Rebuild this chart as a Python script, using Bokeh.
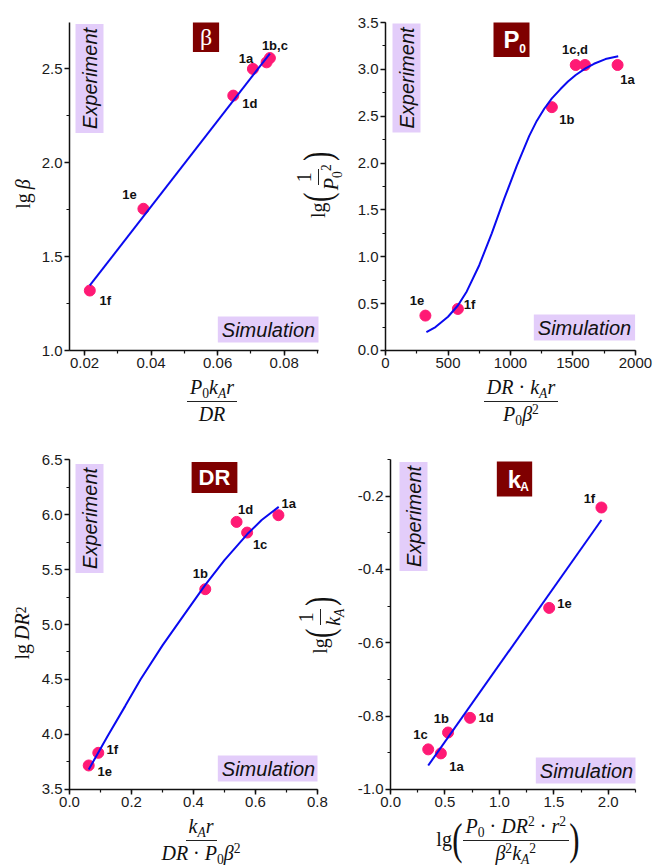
from bokeh.plotting import figure
from bokeh.models import (Range1d, SingleIntervalTicker, Label, LabelSet, Div,
                          ColumnDataSource, PrintfTickFormatter)
from bokeh.layouts import row, column
from bokeh.embed import file_html
from bokeh.resources import INLINE
from bokeh.core.properties import value

# ------------------------------------------------------------------ data
samples = ["1a", "1b", "1c", "1d", "1e", "1f"]

# panel beta
beta_x = [0.0706, 0.0747, 0.0757, 0.0647, 0.0377, 0.0216]
beta_y = [2.498, 2.533, 2.556, 2.356, 1.754, 1.319]
beta_text = ["1a", "", "1b,c", "1d", "1e", "1f"]
beta_fit_x = [0.0216, 0.0757]
beta_fit_y = [1.346, 2.580]

# panel P0
p0_x = [1857, 1331, 1522, 1596, 319, 579]
p0_y = [3.047, 2.597, 3.047, 3.047, 0.372, 0.443]
p0_text = ["1a", "1b", "1c,d", "", "1e", "1f"]
p0_fit_x = [327, 400, 500, 579, 650, 750, 850, 950, 1050, 1150, 1210, 1270, 1331, 1400, 1460,
            1522, 1600, 1668, 1760, 1862]
p0_fit_y = [0.195, 0.25, 0.36, 0.48, 0.63, 0.91, 1.25, 1.62, 1.97, 2.29, 2.45, 2.58, 2.69, 2.79,
            2.87, 2.94, 3.01, 3.06, 3.11, 3.14]

# panel DR
dr_x = [0.674, 0.438, 0.573, 0.539, 0.0619, 0.0928]
dr_y = [5.994, 5.321, 5.836, 5.933, 3.718, 3.833]
dr_text = ["1a", "1b", "1c", "1d", "1e", "1f"]
dr_fit_x = [0.062, 0.124, 0.18, 0.229, 0.30, 0.37, 0.438, 0.50, 0.573, 0.62, 0.675]
dr_fit_y = [3.682, 3.99, 4.26, 4.50, 4.81, 5.09, 5.36, 5.585, 5.82, 5.95, 6.07]

# panel kA
ka_x = [0.462, 0.528, 0.346, 0.730, 1.457, 1.937]
ka_y = [-0.902, -0.845, -0.891, -0.805, -0.505, -0.231]
ka_text = ["1a", "1b", "1c", "1d", "1e", "1f"]
ka_fit_x = [0.346, 1.937]
ka_fit_y = [-0.935, -0.265]

# axis ranges / tick intervals / tick label formats
beta_xrange, beta_yrange, beta_xtick, beta_ytick = (0.0155, 0.0903), (1.0, 2.745), 0.02, 0.5
p0_xrange, p0_yrange, p0_xtick, p0_ytick = (-0.3, 2000.3), (-0.0005, 3.5005), 500, 0.5
dr_xrange, dr_yrange, dr_xtick, dr_ytick = (-0.0001, 0.8001), (3.4995, 6.5005), 0.2, 0.5
ka_xrange, ka_yrange, ka_xtick, ka_ytick = (-0.0005, 2.25), (-1.0005, -0.1), 0.5, 0.2
beta_fmt = ("%.2f", "%.1f")
p0_fmt = ("%d", "%.1f")
dr_fmt = ("%.1f", "%.1f")
ka_fmt = ("%.1f", "%.1f")

# ------------------------------------------------------------------ styles
PINK = "#ff1a75"
BLUE = "#0a0af0"
LAV = "#e3cdfa"
MAROON = "#7f0000"
TXT = "#111111"

beta_dx = [-7, 0, 5, 16.5, -14, 15.5]
beta_dy = [-10, 0, -13, 8, -14, 9.5]
p0_dx = [10, 15, -0.7, 0, -8.3, 11.7]
p0_dy = [14.7, 12.3, -15.3, 0, -15, -4.7]
dr_dx = [10.3, -5, 13, 9, 16, 14]
dr_dy = [-11.3, -15.3, 12.3, -12.3, 6.3, -3.7]
ka_dx = [15.7, -6.7, -7.7, 16, 15.3, -12]
ka_dy = [12.7, -14.3, -14.7, 0, -4.3, -9.3]


def panel(x, y, text, dx, dy, fx, fy, xr, yr, xint, yint, fmt, W, H, bl, br, bt, bb):
    p = figure(width=W, height=H, x_range=Range1d(*xr), y_range=Range1d(*yr),
               output_backend="svg", toolbar_location=None,
               min_border_left=bl, min_border_right=br, min_border_top=bt, min_border_bottom=bb,
               background_fill_color="white", border_fill_color="white")
    p.outline_line_color = None
    p.grid.visible = False
    p.xaxis.ticker = SingleIntervalTicker(interval=xint, num_minor_ticks=2)
    p.yaxis.ticker = SingleIntervalTicker(interval=yint, num_minor_ticks=2)
    p.xaxis.formatter = PrintfTickFormatter(format=fmt[0])
    p.yaxis.formatter = PrintfTickFormatter(format=fmt[1])
    for ax in p.axis:
        ax.axis_line_width = 1.5
        ax.axis_line_color = "#111111"
        ax.major_tick_line_width = 1.5
        ax.major_tick_line_color = "#111111"
        ax.minor_tick_line_color = "#111111"
        ax.major_tick_out = 5
        ax.major_tick_in = 0
        ax.minor_tick_out = 3
        ax.minor_tick_in = 0
        ax.minor_tick_line_width = 1.2
        ax.major_label_text_font = "Liberation Sans"
        ax.major_label_text_font_size = "15px"
        ax.major_label_text_color = "#1a1a1a"
        ax.major_label_standoff = 2
    src = ColumnDataSource(dict(x=x, y=y, t=text, dx=dx, ndy=[-d for d in dy]))
    p.scatter("x", "y", source=src, size=11, fill_color=PINK, line_color=PINK)
    p.line(fx, fy, line_color=BLUE, line_width=2)
    p.add_layout(LabelSet(x="x", y="y", text="t", x_offset="dx", y_offset="ndy", source=src,
                          text_font=value("Liberation Sans"), text_font_style="bold",
                          text_font_size="13px", text_align="center", text_baseline="middle",
                          text_color=TXT))
    return p


def boxes(p, exp_xy, sim_xy):
    p.add_layout(Label(x=exp_xy[0], y=exp_xy[1], x_units="screen", y_units="screen",
                       text="Experiment", angle=90, angle_units="deg",
                       text_align="center", text_baseline="middle",
                       text_font="Liberation Sans", text_font_style="italic",
                       text_font_size="20px", text_color=TXT,
                       background_fill_color=LAV, padding=(4, 3)))
    p.add_layout(Label(x=sim_xy[0], y=sim_xy[1], x_units="screen", y_units="screen",
                       text="Simulation", text_align="center", text_baseline="middle",
                       text_font="Liberation Sans", text_font_style="italic",
                       text_font_size="20px", text_color=TXT,
                       background_fill_color=LAV, padding=(4, 2)))


def title_box(p, xy, txt, font, size, style, pad, sub=None, sub_xy=None):
    p.add_layout(Label(x=xy[0], y=xy[1], x_units="screen", y_units="screen",
                       text=txt, text_align="center", text_baseline="middle",
                       text_font=font, text_font_style=style, text_font_size=size,
                       text_color="white", background_fill_color=MAROON, padding=pad))
    if sub:
        p.add_layout(Label(x=sub_xy[0], y=sub_xy[1], x_units="screen", y_units="screen",
                           text=sub, text_align="center", text_baseline="middle",
                           text_font="Liberation Sans", text_font_style="bold",
                           text_font_size="12px", text_color="white"))


SUB = '<sub style="font-size:0.68em;line-height:0;vertical-align:-0.3em">{}</sub>'
SUP = '<sup style="font-size:0.68em;line-height:0;vertical-align:0.55em">{}</sup>'


def frac(num, den):
    return ('<span style="display:inline-flex;flex-direction:column;align-items:center;'
            'vertical-align:middle;line-height:1.15">'
            f'<span style="padding:0 3px 2px 3px;border-bottom:1.5px solid #222">{num}</span>'
            f'<span style="padding:1px 3px 0 3px">{den}</span></span>')


def paren(ch, size=44):
    return (f'<span style="display:inline-block;font-size:{size}px;line-height:1;'
            f'transform:scaleX(0.7);margin:0 -2px">{ch}</span>')


def xdiv(content, W, H, cx):
    pl = max(0, 2 * cx - W)
    pr = max(0, W - 2 * cx)
    html = (f'<div style="box-sizing:border-box;width:{W}px;height:{H}px;padding-left:{pl}px;'
            f'padding-right:{pr}px;display:flex;align-items:center;justify-content:center;'
            f'font-family:\'Liberation Serif\',serif;font-size:20px;color:#111;white-space:nowrap">'
            f'{content}</div>')
    return Div(text=html, width=W, height=H, margin=0, styles={"overflow": "visible"})


def ydiv(content, W, H, cx, cy, L=70, size=20):
    tx = cx - L / 2
    ty = cy + H / 2
    html = (f'<div style="position:relative;width:{W}px;height:{H}px;overflow:visible">'
            f'<div style="position:absolute;left:0;top:0;width:{H}px;height:{L}px;'
            f'transform-origin:0 0;transform:translate({tx}px,{ty}px) rotate(-90deg);'
            f'display:flex;align-items:center;justify-content:center;white-space:nowrap;'
            f'font-family:\'Liberation Serif\',serif;font-size:{size}px;color:#111;line-height:1">'
            f'{content}</div></div>')
    return Div(text=html, width=W, height=H, margin=0, styles={"overflow": "visible"})


# ------------------------------------------------------------------ panels
p1 = panel(beta_x, beta_y, beta_text, beta_dx, beta_dy, beta_fit_x, beta_fit_y,
           beta_xrange, beta_yrange, beta_xtick, beta_ytick, beta_fmt, 284, 374, 29, 4, 22, 24)
boxes(p1, (20, 272), (199, 21))
title_box(p1, (136.5, 313.5), "β", "Liberation Serif", "24px", "normal", (7, 2))

p2 = panel(p0_x, p0_y, p0_text, p0_dx, p0_dy, p0_fit_x, p0_fit_y,
           p0_xrange, p0_yrange, p0_xtick, p0_ytick, p0_fmt, 299, 374, 30, 18, 22, 24)
boxes(p2, (21, 272.5), (199, 23))
title_box(p2, (126, 311), "P", "Liberation Sans", "24px", "bold", (10, 4), "0", (137, 302))

p3 = panel(dr_x, dr_y, dr_text, dr_dx, dr_dy, dr_fit_x, dr_fit_y,
           dr_xrange, dr_yrange, dr_xtick, dr_ytick, dr_fmt, 292, 385, 29, 13, 31, 24)
boxes(p3, (20, 271), (199, 21))
title_box(p3, (145, 312), "DR", "Liberation Sans", "22px", "bold", (7, 3))

p4 = panel(ka_x, ka_y, ka_text, ka_dx, ka_dy, ka_fit_x, ka_fit_y,
           ka_xrange, ka_yrange, ka_xtick, ka_ytick, ka_fmt, 299, 385, 32, 18, 31, 24)
boxes(p4, (23, 273), (196, 19))
title_box(p4, (124, 310.5), "k", "Liberation Sans", "24px", "bold", (11, 4), "A", (134, 303))

# ------------------------------------------------------------------ axis titles
I = lambda s: f"<i>{s}</i>"
x1 = frac(I("P") + SUB.format("0") + I("k") + SUB.format(I("A")) + I("r"), I("DR"))
x2 = frac(I("DR") + " · " + I("k") + SUB.format(I("A")) + I("r"),
          I("P") + SUB.format("0") + I("β") + SUP.format("2"))
x3 = frac(I("k") + SUB.format(I("A")) + I("r"),
          I("DR") + " · " + I("P") + SUB.format("0") + I("β") + SUP.format("2"))
x4 = ("lg" + paren("(") +
      frac(I("P") + SUB.format("0") + " · " + I("DR") + SUP.format("2") + " · " + I("r") + SUP.format("2"),
           I("β") + SUP.format("2") + I("k") + SUB.format(I("A")) + SUP.format("2")) +
      paren(")"))

y1 = "lg&thinsp;" + I("β")
y2 = "lg" + paren("(", 40) + frac("1", I("P") + SUB.format("0") + SUP.format("2")) + paren(")", 40)
y3 = "lg&thinsp;" + I("DR") + SUP.format("2")
y4 = "lg" + paren("(", 40) + frac("1", I("k") + SUB.format(I("A"))) + paren(")", 40)

row1 = row(ydiv(y1, 38, 428, 23, 194),
           column(p1, xdiv(x1, 284, 54, 174)),
           ydiv(y2, 32, 428, -4, 185),
           column(p2, xdiv(x2, 299, 54, 167)))
row2 = row(ydiv(y3, 38, 438, 22, 205),
           column(p3, xdiv(x3, 292, 53, 163)),
           ydiv(y4, 24, 438, -10, 197),
           column(p4, xdiv(x4, 299, 53, 154)))
layout = column(row1, row2)

open("out.html", "w").write(file_html(layout, INLINE))
